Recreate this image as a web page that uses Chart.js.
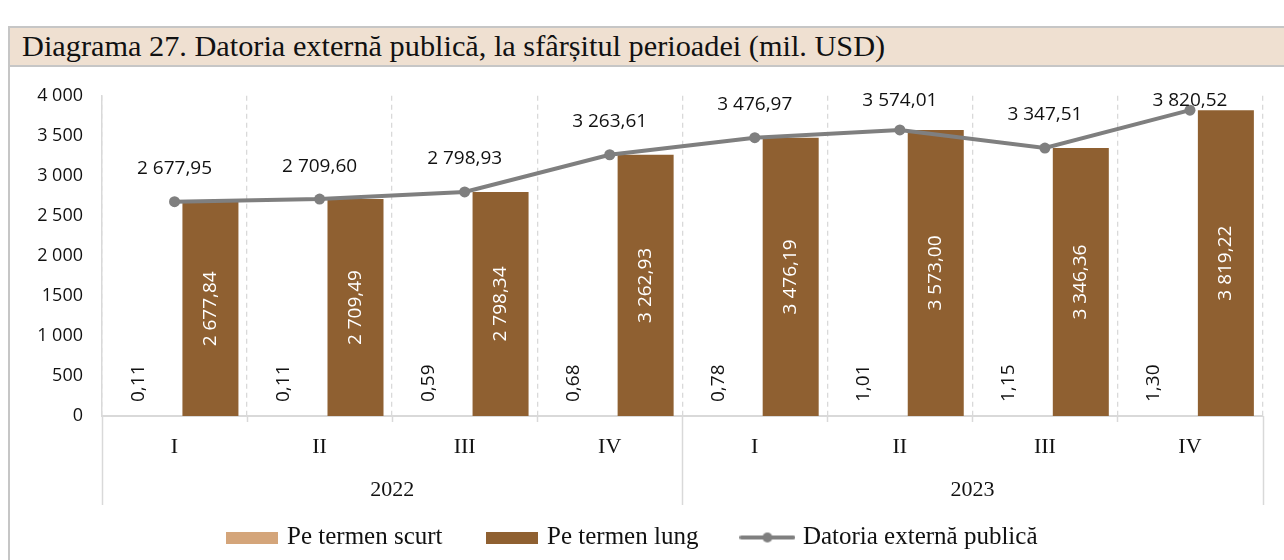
<!DOCTYPE html>
<html><head><meta charset="utf-8">
<script src="https://cdn.jsdelivr.net/npm/chart.js@4.4.1/dist/chart.umd.min.js"></script>
<style>
html,body{margin:0;padding:0;width:1284px;height:560px;overflow:hidden;background:#fff;}
#frame{position:absolute;left:8px;top:26px;width:1300px;height:600px;border-left:2px solid #c6c6c6;}
#hdr{position:absolute;left:8px;top:26px;width:1300px;height:37px;background:#EFE0D1;border-top:2px solid #c6c6c6;border-bottom:2px solid #c6c6c6;border-left:2px solid #c6c6c6;font-family:"Liberation Serif",serif;font-size:30.3px;line-height:37px;padding-left:12px;color:#111;white-space:nowrap;}
#wrap{position:absolute;left:0;top:66px;width:1268px;height:494px;}
</style>
</head><body>
<div id="frame"></div>
<div id="hdr">Diagrama 27. Datoria externă publică, la sfârșitul perioadei (mil. USD)</div>
<div id="wrap"><canvas id="c" width="1268" height="494"></canvas></div>
<script>
const categories = ['I','II','III','IV','I','II','III','IV'];
const years = ['2022','2023'];
const shortTerm = [0.11,0.11,0.59,0.68,0.78,1.01,1.15,1.30];
const longTerm = [2677.84,2709.49,2798.34,3262.93,3476.19,3573.00,3346.36,3819.22];
const totalDebt = [2677.95,2709.60,2798.93,3263.61,3476.97,3574.01,3347.51,3820.52];
const yTickLabels = ['0','500','1 000','1500','2 000','2 500','3 000','3 500','4 000'];
const seriesNames = ['Pe termen scurt','Pe termen lung','Datoria externă publică'];

const COL_SHORT = '#D4A57A', COL_LONG = '#8F6031', COL_LINE = '#7F7F7F';
const SANS = '"Open Sans", sans-serif', SERIF = '"Liberation Serif", serif';

function fmt(v){const p=v.toFixed(2).split('.');return p[0].replace(/\B(?=(\d{3})+(?!\d))/g,' ')+','+p[1];}
function rectSwatch(color){const c=document.createElement('canvas');c.width=52;c.height=12;const g=c.getContext('2d');g.fillStyle=color;g.fillRect(0,0,52,12);return c;}
function lineSwatch(){const c=document.createElement('canvas');c.width=56;c.height=12;const g=c.getContext('2d');g.strokeStyle=COL_LINE;g.lineWidth=4;g.lineCap='round';g.beginPath();g.moveTo(2,6);g.lineTo(54,6);g.stroke();g.fillStyle=COL_LINE;g.beginPath();g.arc(28,6,5,0,Math.PI*2);g.fill();return c;}
const swatches=[rectSwatch(COL_SHORT),rectSwatch(COL_LONG),lineSwatch()];

const decor={
  id:'decor',
  afterDraw(chart){
    const ctx=chart.ctx, ca=chart.chartArea, xs=chart.scales.x;
    const n=categories.length, w=(ca.right-ca.left)/n, b=ca.bottom;
    ctx.save();
    ctx.strokeStyle='#d9d9d9';ctx.lineWidth=1.5;
    for(let k=0;k<=n;k++){
      const x=Math.round(ca.left+w*k)+0.5;
      const L=(k%4===0)?89:6;
      ctx.beginPath();ctx.moveTo(x,b);ctx.lineTo(x,b+L);ctx.stroke();
    }
    ctx.fillStyle='#111';ctx.font='22px '+SERIF;ctx.textAlign='center';ctx.textBaseline='middle';
    years.forEach((yr,j)=>{
      const x=(xs.getPixelForValue(j*4)+xs.getPixelForValue(j*4+3))/2;
      ctx.fillText(yr,x,b+74);
    });
    ctx.restore();
  },
  afterDatasetsDraw(chart){
    const ctx=chart.ctx, ca=chart.chartArea;
    ctx.save();
    ctx.font='19px '+SANS;ctx.textBaseline='middle';
    chart.getDatasetMeta(0).data.forEach((el,i)=>{
      ctx.save();ctx.translate(el.x,el.base-14);ctx.rotate(-Math.PI/2);
      ctx.textAlign='left';ctx.fillStyle='#111';ctx.fillText(fmt(shortTerm[i]),0,0);ctx.restore();
    });
    chart.getDatasetMeta(1).data.forEach((el,i)=>{
      ctx.save();ctx.translate(el.x,(el.y+el.base)/2);ctx.rotate(-Math.PI/2);
      ctx.textAlign='center';ctx.fillStyle='#fff';ctx.fillText(fmt(longTerm[i]),0,0);ctx.restore();
    });
    chart.getDatasetMeta(2).data.forEach((el,i)=>{
      const y=Math.max(el.y-33,ca.top+5);
      ctx.textAlign='center';ctx.fillStyle='#111';ctx.fillText(fmt(totalDebt[i]),el.x,y);
    });
    ctx.restore();
  }
};

new Chart(document.getElementById('c'),{
  data:{
    labels:categories,
    datasets:[
      {type:'bar',label:seriesNames[0],data:shortTerm,backgroundColor:COL_SHORT,categoryPercentage:0.99,barPercentage:0.78,order:1},
      {type:'bar',label:seriesNames[1],data:longTerm,backgroundColor:COL_LONG,categoryPercentage:0.99,barPercentage:0.78,order:1},
      {type:'line',label:seriesNames[2],data:totalDebt,borderColor:COL_LINE,backgroundColor:COL_LINE,borderWidth:4,pointRadius:5.5,pointBackgroundColor:COL_LINE,pointBorderWidth:0,tension:0,order:-1}
    ]
  },
  options:{
    responsive:false,animation:false,
    layout:{padding:{top:27,left:0,right:2,bottom:0}},
    plugins:{
      tooltip:{enabled:false},
      legend:{
        position:'bottom',
        labels:{
          usePointStyle:true,pointStyleWidth:46,boxHeight:12,padding:46,
          font:{family:SERIF,size:25},color:'#111',
          generateLabels:(chart)=>chart.data.datasets.map((ds,i)=>({text:ds.label,pointStyle:swatches[i],fillStyle:'transparent',strokeStyle:'transparent',lineWidth:0,hidden:false,datasetIndex:i,fontColor:'#111'}))
        }
      }
    },
    scales:{
      x:{
        offset:true,
        grid:{display:true,offset:true,drawTicks:false,color:'#d9d9d9',lineWidth:1.3},
        border:{display:true,color:'#d9d9d9',width:2,dash:[5,4]},
        ticks:{padding:18,font:{family:SERIF,size:22},color:'#111',maxRotation:0},
        afterFit:(s)=>{s.height=63;}
      },
      y:{
        min:0,max:4000,
        grid:{display:false,drawTicks:false},
        border:{display:true,color:'#d9d9d9',width:1.5},
        ticks:{stepSize:500,padding:19,font:{family:SANS,size:18},color:'#111',
          callback:(v)=>yTickLabels[Math.round(v/500)]},
        afterFit:(s)=>{s.width=102;}
      }
    }
  },
  plugins:[decor]
});
</script>
</body></html>
